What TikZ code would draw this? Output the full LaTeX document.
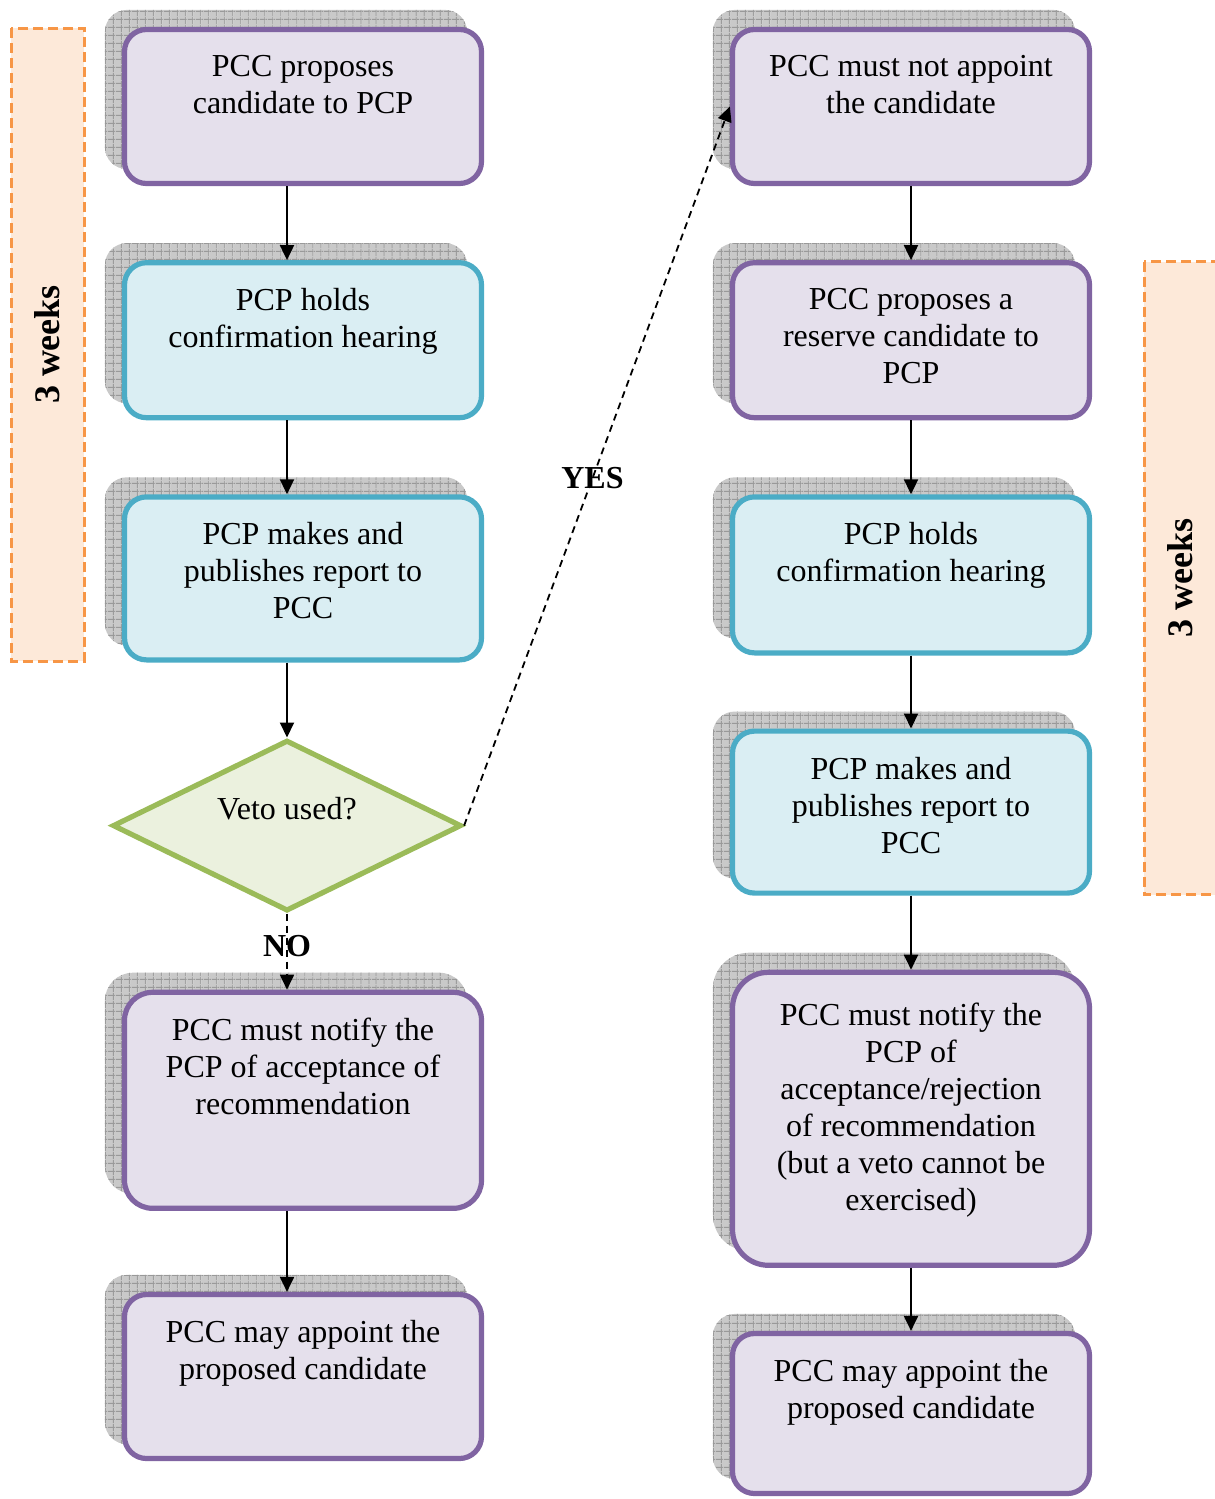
\documentclass[tikz,border=0pt]{standalone}
\usepackage{fontspec}
\setmainfont{Liberation Serif}
\usetikzlibrary{positioning,shapes.geometric,arrows.meta,patterns.meta,backgrounds}
\definecolor{colorPu}{HTML}{8064A2}
\definecolor{colorPuF}{HTML}{E5E0EC}
\definecolor{colorBl}{HTML}{4BACC6}
\definecolor{colorBlF}{HTML}{DAEEF3}
\definecolor{colorGr}{HTML}{9BBB59}
\definecolor{colorGrF}{HTML}{EBF1DE}
\definecolor{colorOr}{HTML}{F79646}
\definecolor{colorOrF}{HTML}{FDE9D9}

\begin{document}
\begin{tikzpicture}[x=0.5pt,y=-0.5pt,node distance=37pt,>={Triangle[length=7.5pt,width=7pt]},every node/.append style={align=center,font=\fontsize{16}{18.5}\selectfont},proc/.style={draw=colorPu,fill=colorPuF,line width=2.6pt,rounded corners=11pt,minimum width=178.5pt,inner sep=0pt},hear/.style={proc,draw=colorBl,fill=colorBlF},dec/.style={diamond,draw=colorGr,fill=colorGrF,line width=2.6pt,minimum width=174.5pt,minimum height=85.5pt,inner sep=0pt},wk/.style={draw=colorOr,fill=colorOrF,line width=1.5pt,dash pattern=on 5pt off 2.5pt,rotate=90,minimum width=316.5pt,minimum height=36.5pt,font=\fontsize{18}{20}\selectfont\bfseries},txt/.style={inner sep=0pt},backdrop/.style={fill=black!21,postaction={pattern={Lines[angle=0,distance=4pt,line width=0.5pt]},pattern color=black!40},postaction={pattern={Lines[angle=90,distance=4pt,line width=0.5pt]},pattern color=black!40}},flow/.style={->,line width=1pt},choice/.style={->,line width=0.9pt,dash pattern=on 3.5pt off 2.5pt},lbl/.style={inner sep=1pt,font=\fontsize{16}{18.5}\selectfont\bfseries}]
    \useasboundingbox (0,0) rectangle (1215,1499);
    % time spans
    \node [wk] (W1) at (47.5,344.5) {3 weeks};
    \node [wk] (W2) at (1180.5,578) {3 weeks};
    % left column
    \node [proc, minimum height=77pt] (P1) at (303,106.5) {};
    \node [hear, minimum height=77.5pt, below=of P1] (P2) {};
    \node [hear, minimum height=81.5pt, below=of P2] (P3) {};
    \node [dec, below=37.5pt of P3, xshift=-8pt] (D) {};
    \node [proc, minimum height=108pt, rounded corners=14pt, below=38pt of D, xshift=8pt] (P4) {};
    \node [proc, minimum height=82pt, below=40.5pt of P4] (P5) {};
    \node [txt, below=14pt of P1.north] (P1t) {PCC proposes\\candidate to PCP};
    \node [txt, below=14pt of P2.north] (P2t) {PCP holds\\confirmation hearing};
    \node [txt, below=14pt of P3.north] (P3t) {PCP makes and\\publishes report to\\PCC};
    \node [txt] (Dt) at ([yshift=8.5pt]D.center) {Veto used?};
    \node [txt, below=14pt of P4.north] (P4t) {PCC must notify the\\PCP of acceptance of\\recommendation};
    \node [txt, below=14pt of P5.north] (P5t) {PCC may appoint the\\proposed candidate};
    % right column
    \node [proc, minimum height=77pt] (R1) at (911,106.5) {};
    \node [proc, minimum height=77.5pt, below=of R1] (R2) {};
    \node [hear, minimum height=78pt, below=of R2] (R3) {};
    \node [hear, minimum height=81pt, below=36.5pt of R3] (R4) {};
    \node [proc, minimum height=146.5pt, rounded corners=18pt, below=37pt of R4] (R5) {};
    \node [proc, minimum height=80pt, below=31.5pt of R5] (R6) {};
    \node [txt, below=14pt of R1.north] (R1t) {PCC must not appoint\\the candidate};
    \node [txt, below=14pt of R2.north] (R2t) {PCC proposes a\\reserve candidate to\\PCP};
    \node [txt, below=14pt of R3.north] (R3t) {PCP holds\\confirmation hearing};
    \node [txt, below=14pt of R4.north] (R4t) {PCP makes and\\publishes report to\\PCC};
    \node [txt, below=16.5pt of R5.north] (R5t) {PCC must notify the\\PCP of\\acceptance/rejection\\of recommendation\\(but a veto cannot be\\exercised)};
    \node [txt, below=14pt of R6.north] (R6t) {PCC may appoint the\\proposed candidate};
    % shadows
    \begin{scope}[on background layer]
        \foreach \n/\r in {P1/11,P2/11,P3/11,P4/14,P5/11,R1/11,R2/11,R3/11,R4/11,R5/18,R6/11}
            \path [backdrop, rounded corners=\r pt] ([xshift=-8.5pt,yshift=8.5pt]\n.south west) rectangle ([xshift=-8.5pt,yshift=8.5pt]\n.north east);
    \end{scope}
    % connectors
    \draw [flow] ([xshift=-8pt]P1.south) -- ([xshift=-8pt]P2.north);
    \draw [flow] ([xshift=-8pt]P2.south) -- ([xshift=-8pt]P3.north);
    \draw [flow] ([xshift=-8pt]P3.south) -- (D.north);
    \draw [choice] (D.south) -- node [lbl, pos=0.42] {NO} ([xshift=-8pt]P4.north);
    \draw [flow] ([xshift=-8pt]P4.south) -- ([xshift=-8pt]P5.north);
    \draw [choice] (D.east) -- node [lbl, pos=0.483] {YES} (R1.west);
    \draw [flow] (R1.south) -- (R2.north);
    \draw [flow] (R2.south) -- (R3.north);
    \draw [flow] (R3.south) -- (R4.north);
    \draw [flow] (R4.south) -- (R5.north);
    \draw [flow] (R5.south) -- (R6.north);
\end{tikzpicture}
\end{document}
